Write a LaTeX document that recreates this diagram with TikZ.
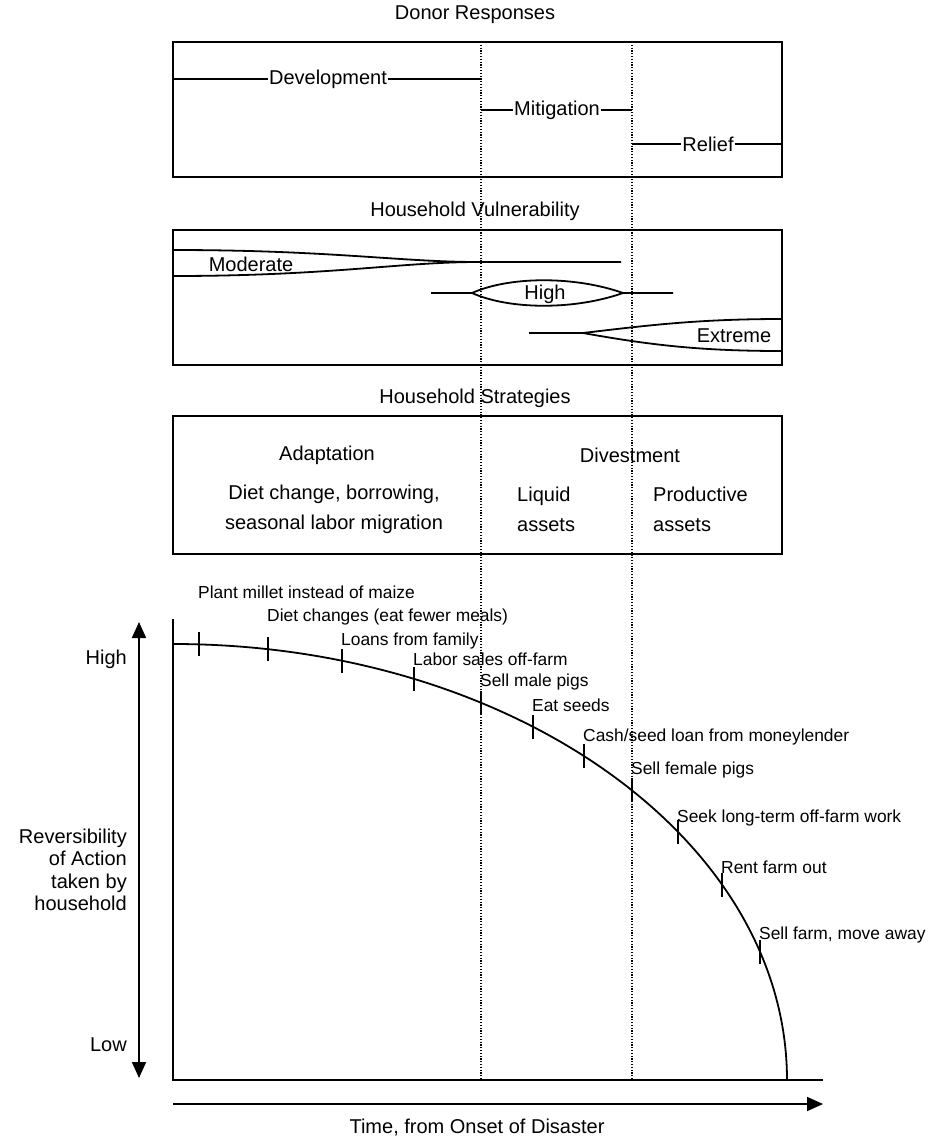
\documentclass[tikz,border=0pt]{standalone}
\usepackage{fontspec}
\setmainfont{Liberation Sans}
\usetikzlibrary{arrows.meta, positioning, calc}

\tikzset{
  panel/.style={draw, line width=2.2pt},
  big/.style={font=\fontsize{20}{22.5}\selectfont, inner sep=1pt},
  small/.style={font=\fontsize{17.4}{20}\selectfont, inner sep=0pt, anchor=base west},
  band/.style={line width=1.8pt},
  guide/.style={line width=1.1pt, dash pattern=on 1.1pt off 1.7pt},
  axisarrow/.style={line width=1.8pt, -{Triangle[length=16pt, width=14pt]}}
}

\begin{document}
\begin{tikzpicture}[x=1pt, y=-1pt]
  \useasboundingbox (0,0) rectangle (928,1141);

  % time phases
  \coordinate (g1) at (481,42);
  \coordinate (g2) at (632,42);
  \draw[guide] (g1) -- (481,1080);
  \draw[guide] (g2) -- (632,1080);

  % donor responses
  \node[big] (donor) at (475,15) {Donor Responses};
  \draw[panel] (173,42) rectangle (782,177);
  \node[big] (dev) at (328,79) {Development};
  \node[big] (mit) at (557,110) {Mitigation};
  \node[big] (rel) at (708,144) {Relief};
  \draw[band] (173,79) -- (dev.west);
  \draw[band] (dev.east) -- (481,79);
  \draw[band] (481,110) -- (mit.west);
  \draw[band] (mit.east) -- (632,110);
  \draw[band] (632,144) -- (rel.west);
  \draw[band] (rel.east) -- (782,144);

  % household vulnerability
  \node[big] (vul) at (475,211) {Household Vulnerability};
  \draw[panel] (173,230) rectangle (782,365);
  \draw[band] (173,250) .. controls (330,250) and (400,262) .. (478,262) -- (621,262);
  \draw[band] (173,276) .. controls (330,276) and (400,262) .. (478,262);
  \node[big] (mod) at (251,264) {Moderate};
  \draw[band] (431,293) -- (472,293) .. controls (510,276) and (575,276) .. (623,293) -- (673,293);
  \draw[band] (472,293) .. controls (510,310) and (575,310) .. (623,293);
  \node[big] (high) at (545,294) {High};
  \draw[band] (529,333) -- (583,333) .. controls (650,325) and (700,319) .. (782,319);
  \draw[band] (583,333) .. controls (650,345) and (700,351) .. (782,351);
  \node[big] (ext) at (734,336) {Extreme};

  % household strategies
  \node[big] (strat) at (475,398) {Household Strategies};
  \draw[panel] (173,416) rectangle (782,554);
  \node[big] (adapt) at (327,455) {Adaptation};
  \node[big] (divest) at (630,455) {Divestment};
  \node[big, align=center, font=\fontsize{20}{30}\selectfont] (diet) at (334,509)
    {Diet change, borrowing,\\seasonal labor migration};
  \node[big, align=left, anchor=west, font=\fontsize{20}{30}\selectfont] (liquid) at (516,509)
    {Liquid\\assets};
  \node[big, align=left, anchor=west, font=\fontsize{20}{30}\selectfont] (prod) at (652,509)
    {Productive\\assets};

  % reversibility curve
  \draw[band] (173,619) -- (173,1080) -- (823,1080);
  \draw[band] (173,644) arc[start angle=-90, end angle=0, x radius=614, y radius=436];
  \foreach \tx/\ty/\txt in {199/598/Plant millet instead of maize,
      268/621/Diet changes (eat fewer meals),
      342/645/Loans from family,
      414/665/Labor sales off-farm,
      481/686/Sell male pigs,
      533/711/Eat seeds,
      584/741/Cash\slash seed loan from moneylender,
      632/774/Sell female pigs,
      678/822/Seek long-term off-farm work,
      722/873/Rent farm out,
      760/939/Sell farm{,} move away} {
    \draw[band] ({\tx},{1080-436*sqrt(1-((\tx-173)/614)^2)-12}) -- ++(0,24);
    \node[small] at (\tx-1,\ty) {\txt};
  }

  % axes
  \draw[line width=1.8pt, {Triangle[length=16pt, width=14pt]}-{Triangle[length=16pt, width=14pt]}]
    (139,622) -- (139,1078);
  \node[big, anchor=east] (hi) at (128,659) {High};
  \node[big, anchor=east] (lo) at (128,1045) {Low};
  \node[big, anchor=east, align=right] (rev) at (128,870)
    {Reversibility\\of Action\\taken by\\household};
  \draw[axisarrow] (173,1104) -- (823,1104);
  \node[big] (time) at (477,1128) {Time, from Onset of Disaster};
\end{tikzpicture}
\end{document}
